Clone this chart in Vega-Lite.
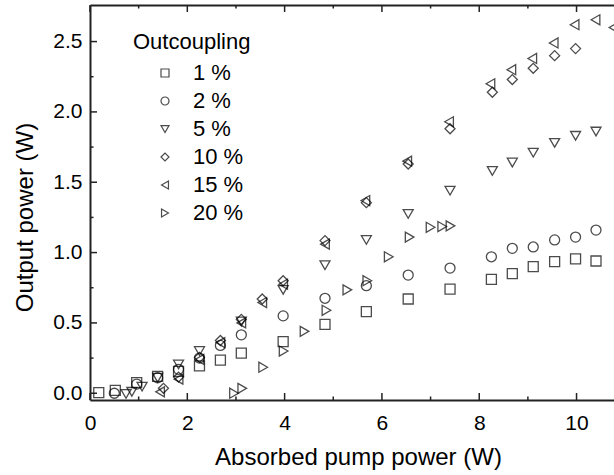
{
  "$schema": "https://vega.github.io/schema/vega-lite/v6.json",
  "width": 524,
  "height": 395,
  "autosize": {"type": "none"},
  "padding": {"left": 90, "top": 5, "right": 0, "bottom": 75},
  "background": "white",
  "config": {
    "view": {"stroke": null},
    "font": "Liberation Sans",
    "axis": {
      "grid": false,
      "domainColor": "#222222",
      "domainWidth": 2,
      "labelColor": "black",
      "labelFont": "Liberation Sans",
      "labelFontSize": 21,
      "titleColor": "black",
      "titleFont": "Liberation Sans",
      "titleFontSize": 24,
      "titleFontWeight": "normal"
    }
  },
  "datasets": {
    "pts": [
      {"p": 0.18, "o": 0.005, "s": "1 %"},
      {"p": 0.52, "o": 0.02, "s": "1 %"},
      {"p": 0.96, "o": 0.075, "s": "1 %"},
      {"p": 1.39, "o": 0.12, "s": "1 %"},
      {"p": 1.82, "o": 0.155, "s": "1 %"},
      {"p": 2.25, "o": 0.195, "s": "1 %"},
      {"p": 2.68, "o": 0.235, "s": "1 %"},
      {"p": 3.11, "o": 0.285, "s": "1 %"},
      {"p": 3.97, "o": 0.367, "s": "1 %"},
      {"p": 4.83, "o": 0.49, "s": "1 %"},
      {"p": 5.68, "o": 0.58, "s": "1 %"},
      {"p": 6.54, "o": 0.67, "s": "1 %"},
      {"p": 7.40, "o": 0.74, "s": "1 %"},
      {"p": 8.25, "o": 0.81, "s": "1 %"},
      {"p": 8.68, "o": 0.85, "s": "1 %"},
      {"p": 9.11, "o": 0.90, "s": "1 %"},
      {"p": 9.55, "o": 0.935, "s": "1 %"},
      {"p": 9.98, "o": 0.955, "s": "1 %"},
      {"p": 10.40, "o": 0.94, "s": "1 %"},
      {"p": 0.50, "o": 0.0, "s": "2 %"},
      {"p": 0.96, "o": 0.065, "s": "2 %"},
      {"p": 1.39, "o": 0.11, "s": "2 %"},
      {"p": 1.82, "o": 0.17, "s": "2 %"},
      {"p": 2.25, "o": 0.25, "s": "2 %"},
      {"p": 2.68, "o": 0.34, "s": "2 %"},
      {"p": 3.11, "o": 0.415, "s": "2 %"},
      {"p": 3.97, "o": 0.55, "s": "2 %"},
      {"p": 4.83, "o": 0.675, "s": "2 %"},
      {"p": 5.68, "o": 0.765, "s": "2 %"},
      {"p": 6.54, "o": 0.84, "s": "2 %"},
      {"p": 7.40, "o": 0.89, "s": "2 %"},
      {"p": 8.25, "o": 0.97, "s": "2 %"},
      {"p": 8.68, "o": 1.03, "s": "2 %"},
      {"p": 9.11, "o": 1.04, "s": "2 %"},
      {"p": 9.55, "o": 1.09, "s": "2 %"},
      {"p": 9.98, "o": 1.11, "s": "2 %"},
      {"p": 10.40, "o": 1.16, "s": "2 %"},
      {"p": 0.74, "o": -0.005, "s": "5 %"},
      {"p": 0.86, "o": 0.01, "s": "5 %"},
      {"p": 1.07, "o": 0.047, "s": "5 %"},
      {"p": 1.39, "o": 0.11, "s": "5 %"},
      {"p": 1.82, "o": 0.205, "s": "5 %"},
      {"p": 2.25, "o": 0.30, "s": "5 %"},
      {"p": 3.11, "o": 0.51, "s": "5 %"},
      {"p": 3.97, "o": 0.735, "s": "5 %"},
      {"p": 4.83, "o": 0.91, "s": "5 %"},
      {"p": 5.68, "o": 1.09, "s": "5 %"},
      {"p": 6.54, "o": 1.275, "s": "5 %"},
      {"p": 7.40, "o": 1.44, "s": "5 %"},
      {"p": 8.27, "o": 1.58, "s": "5 %"},
      {"p": 8.68, "o": 1.64, "s": "5 %"},
      {"p": 9.11, "o": 1.71, "s": "5 %"},
      {"p": 9.55, "o": 1.78, "s": "5 %"},
      {"p": 9.98, "o": 1.83, "s": "5 %"},
      {"p": 10.40, "o": 1.86, "s": "5 %"},
      {"p": 1.51, "o": 0.035, "s": "10 %"},
      {"p": 1.82, "o": 0.115, "s": "10 %"},
      {"p": 2.25, "o": 0.255, "s": "10 %"},
      {"p": 2.68, "o": 0.375, "s": "10 %"},
      {"p": 3.11, "o": 0.525, "s": "10 %"},
      {"p": 3.54, "o": 0.67, "s": "10 %"},
      {"p": 3.97, "o": 0.80, "s": "10 %"},
      {"p": 4.83, "o": 1.085, "s": "10 %"},
      {"p": 5.68, "o": 1.355, "s": "10 %"},
      {"p": 6.54, "o": 1.63, "s": "10 %"},
      {"p": 7.40, "o": 1.88, "s": "10 %"},
      {"p": 8.27, "o": 2.14, "s": "10 %"},
      {"p": 8.68, "o": 2.23, "s": "10 %"},
      {"p": 9.11, "o": 2.31, "s": "10 %"},
      {"p": 9.55, "o": 2.40, "s": "10 %"},
      {"p": 9.98, "o": 2.45, "s": "10 %"},
      {"p": 1.44, "o": 0.01, "s": "15 %"},
      {"p": 1.82, "o": 0.10, "s": "15 %"},
      {"p": 2.25, "o": 0.24, "s": "15 %"},
      {"p": 2.68, "o": 0.36, "s": "15 %"},
      {"p": 3.11, "o": 0.50, "s": "15 %"},
      {"p": 3.54, "o": 0.645, "s": "15 %"},
      {"p": 3.97, "o": 0.775, "s": "15 %"},
      {"p": 4.83, "o": 1.06, "s": "15 %"},
      {"p": 5.66, "o": 1.37, "s": "15 %"},
      {"p": 6.52, "o": 1.65, "s": "15 %"},
      {"p": 7.38, "o": 1.93, "s": "15 %"},
      {"p": 8.23, "o": 2.20, "s": "15 %"},
      {"p": 8.66, "o": 2.30, "s": "15 %"},
      {"p": 9.09, "o": 2.38, "s": "15 %"},
      {"p": 9.53, "o": 2.49, "s": "15 %"},
      {"p": 9.96, "o": 2.62, "s": "15 %"},
      {"p": 10.39, "o": 2.655, "s": "15 %"},
      {"p": 10.76, "o": 2.60, "s": "15 %"},
      {"p": 2.96, "o": 0.0, "s": "20 %"},
      {"p": 3.13, "o": 0.035, "s": "20 %"},
      {"p": 3.56, "o": 0.185, "s": "20 %"},
      {"p": 3.98, "o": 0.30, "s": "20 %"},
      {"p": 4.41, "o": 0.44, "s": "20 %"},
      {"p": 4.86, "o": 0.59, "s": "20 %"},
      {"p": 5.29, "o": 0.735, "s": "20 %"},
      {"p": 5.70, "o": 0.80, "s": "20 %"},
      {"p": 6.14, "o": 0.97, "s": "20 %"},
      {"p": 6.57, "o": 1.11, "s": "20 %"},
      {"p": 7.00, "o": 1.18, "s": "20 %"},
      {"p": 7.24, "o": 1.185, "s": "20 %"},
      {"p": 7.41, "o": 1.19, "s": "20 %"}
    ],
    "tk": [
      {"a": "x", "v": 0, "m": 1}, {"a": "x", "v": 1, "m": 0}, {"a": "x", "v": 2, "m": 1},
      {"a": "x", "v": 3, "m": 0}, {"a": "x", "v": 4, "m": 1}, {"a": "x", "v": 5, "m": 0},
      {"a": "x", "v": 6, "m": 1}, {"a": "x", "v": 7, "m": 0}, {"a": "x", "v": 8, "m": 1},
      {"a": "x", "v": 9, "m": 0}, {"a": "x", "v": 10, "m": 1},
      {"a": "y", "v": 0, "m": 1}, {"a": "y", "v": 0.25, "m": 0}, {"a": "y", "v": 0.5, "m": 1},
      {"a": "y", "v": 0.75, "m": 0}, {"a": "y", "v": 1, "m": 1}, {"a": "y", "v": 1.25, "m": 0},
      {"a": "y", "v": 1.5, "m": 1}, {"a": "y", "v": 1.75, "m": 0}, {"a": "y", "v": 2, "m": 1},
      {"a": "y", "v": 2.25, "m": 0}, {"a": "y", "v": 2.5, "m": 1}
    ]
  },
  "resolve": {"axis": {"x": "independent", "y": "independent"}},
  "layer": [
    {
      "data": {"name": "pts"},
      "mark": {"type": "point", "filled": false, "color": "black", "strokeWidth": 1.3, "size": 100, "clip": true},
      "encoding": {
        "x": {
          "field": "p", "type": "quantitative",
          "scale": {"domain": [0, 10.77], "nice": false, "zero": false},
          "axis": {
            "orient": "bottom",
            "values": [0, 2, 4, 6, 8, 10],
            "format": "d",
            "ticks": false,
            "labelPadding": 29,
            "labelBaseline": "alphabetic",
            "labelFlush": false,
            "labelOverlap": false,
            "title": "Absorbed pump power (W)",
            "titleX": 268,
            "titleY": 64,
            "titleBaseline": "alphabetic",
            "titleAlign": "center",
            "titleAnchor": null
          }
        },
        "y": {
          "field": "o", "type": "quantitative",
          "scale": {"domain": [-0.048, 2.76], "nice": false, "zero": false},
          "axis": {
            "orient": "left",
            "values": [0, 0.5, 1, 1.5, 2, 2.5],
            "format": ".1f",
            "ticks": false,
            "labelPadding": 8,
            "labelBaseline": "middle",
            "labelFlush": false,
            "labelOverlap": false,
            "title": "Output power (W)",
            "titleX": -58,
            "titleY": 212,
            "titleBaseline": "alphabetic",
            "titleAlign": "center",
            "titleAnchor": null
          }
        },
        "shape": {
          "field": "s", "type": "nominal",
          "scale": {
            "domain": ["1 %", "2 %", "5 %", "10 %", "15 %", "20 %"],
            "range": ["square", "circle", "triangle-down", "diamond", "triangle-left", "triangle-right"]
          },
          "legend": {
            "orient": "none",
            "legendX": 43,
            "legendY": 27,
            "title": "Outcoupling",
            "titleFont": "Liberation Sans",
            "titleFontSize": 22,
            "titleFontWeight": "normal",
            "titleColor": "black",
            "titlePadding": 8,
            "labelFont": "Liberation Sans",
            "labelFontSize": 22,
            "labelColor": "black",
            "symbolSize": 64,
            "symbolStrokeWidth": 1.2,
            "symbolStrokeColor": "black",
            "symbolFillColor": "transparent",
            "symbolOffset": 21,
            "labelOffset": 17,
            "rowPadding": 6
          }
        }
      }
    },
    {
      "data": {"name": "pts"},
      "mark": {"type": "point", "opacity": 0},
      "encoding": {
        "x": {
          "field": "p", "type": "quantitative",
          "scale": {"domain": [0, 10.77], "nice": false, "zero": false},
          "axis": {"orient": "top", "values": [0, 2, 4, 6, 8, 10], "labels": false, "ticks": false, "title": null}
        }
      }
    },
    {
      "data": {"name": "tk"},
      "transform": [{"filter": "datum.a === 'x' && datum.m === 1"}],
      "mark": {"type": "tick", "orient": "vertical", "color": "#222222", "opacity": 1, "size": 7, "thickness": 1.5, "yOffset": -3.5},
      "encoding": {
        "x": {"field": "v", "type": "quantitative", "scale": {"domain": [0, 10.77], "nice": false, "zero": false}, "axis": null},
        "y": {"datum": -0.048, "type": "quantitative", "scale": {"domain": [-0.048, 2.76], "nice": false, "zero": false}, "axis": null}
      }
    },
    {
      "data": {"name": "tk"},
      "transform": [{"filter": "datum.a === 'x' && datum.m === 0"}],
      "mark": {"type": "tick", "orient": "vertical", "color": "#222222", "opacity": 1, "size": 3.5, "thickness": 1.5, "yOffset": -1.75},
      "encoding": {
        "x": {"field": "v", "type": "quantitative", "scale": {"domain": [0, 10.77], "nice": false, "zero": false}, "axis": null},
        "y": {"datum": -0.048, "type": "quantitative", "scale": {"domain": [-0.048, 2.76], "nice": false, "zero": false}, "axis": null}
      }
    },
    {
      "data": {"name": "tk"},
      "transform": [{"filter": "datum.a === 'x' && datum.m === 1"}],
      "mark": {"type": "tick", "orient": "vertical", "color": "#222222", "opacity": 1, "size": 7, "thickness": 1.5, "yOffset": 3.5},
      "encoding": {
        "x": {"field": "v", "type": "quantitative", "scale": {"domain": [0, 10.77], "nice": false, "zero": false}, "axis": null},
        "y": {"datum": 2.76, "type": "quantitative", "scale": {"domain": [-0.048, 2.76], "nice": false, "zero": false}, "axis": null}
      }
    },
    {
      "data": {"name": "tk"},
      "transform": [{"filter": "datum.a === 'x' && datum.m === 0"}],
      "mark": {"type": "tick", "orient": "vertical", "color": "#222222", "opacity": 1, "size": 3.5, "thickness": 1.5, "yOffset": 1.75},
      "encoding": {
        "x": {"field": "v", "type": "quantitative", "scale": {"domain": [0, 10.77], "nice": false, "zero": false}, "axis": null},
        "y": {"datum": 2.76, "type": "quantitative", "scale": {"domain": [-0.048, 2.76], "nice": false, "zero": false}, "axis": null}
      }
    },
    {
      "data": {"name": "tk"},
      "transform": [{"filter": "datum.a === 'y' && datum.m === 1"}],
      "mark": {"type": "tick", "orient": "horizontal", "color": "#222222", "opacity": 1, "size": 7, "thickness": 1.5, "xOffset": 3.5},
      "encoding": {
        "y": {"field": "v", "type": "quantitative", "scale": {"domain": [-0.048, 2.76], "nice": false, "zero": false}, "axis": null},
        "x": {"datum": 0, "type": "quantitative", "scale": {"domain": [0, 10.77], "nice": false, "zero": false}, "axis": null}
      }
    },
    {
      "data": {"name": "tk"},
      "transform": [{"filter": "datum.a === 'y' && datum.m === 0"}],
      "mark": {"type": "tick", "orient": "horizontal", "color": "#222222", "opacity": 1, "size": 3.5, "thickness": 1.5, "xOffset": 1.75},
      "encoding": {
        "y": {"field": "v", "type": "quantitative", "scale": {"domain": [-0.048, 2.76], "nice": false, "zero": false}, "axis": null},
        "x": {"datum": 0, "type": "quantitative", "scale": {"domain": [0, 10.77], "nice": false, "zero": false}, "axis": null}
      }
    }
  ]
}
